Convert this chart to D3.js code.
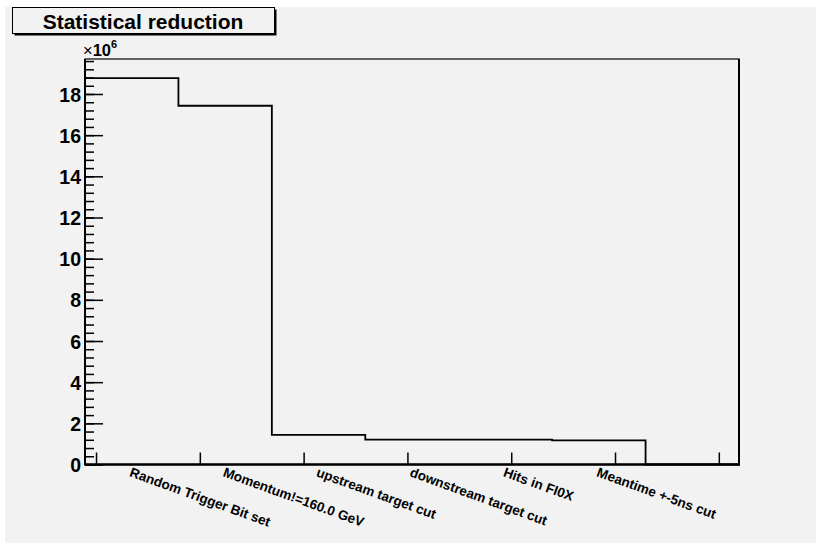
<!DOCTYPE html>
<html>
<head>
<meta charset="utf-8">
<script src="https://cdn.jsdelivr.net/npm/d3@7"></script>
<style>
  html, body { margin: 0; padding: 0; background: #ffffff; }
  svg { display: block; }
  text { font-family: "Liberation Sans", Arial, Helvetica, sans-serif; }
</style>
</head>
<body>
<script>
// ---- data ----
const title = "Statistical reduction";
const categories = ["Random Trigger Bit set", "Momentum!=160.0 GeV", "upstream target cut",
                    "downstream target cut", "Hits in FI0X", "Meantime +-5ns cut", ""];
const values = [18.77, 17.43, 1.44, 1.21, 1.21, 1.17, 0];   // in units of 10^6
const yMajorTicks = [0, 2, 4, 6, 8, 10, 12, 14, 16, 18];
const yMinorTicks = d3.range(0, 19.7, 0.4);
const xTickValues = [0.118, 1.229, 2.34, 3.451, 4.562, 5.673, 6.784];
const exponentLabel = "6";

// ---- layout ----
const W = 816, H = 543;
const svg = d3.select("body").append("svg").attr("width", W).attr("height", H);

svg.append("rect").attr("x", 5).attr("y", 7).attr("width", W - 5).attr("height", H - 7)
  .attr("fill", "#f2f2f2");

const fx0 = 85, fx1 = 739, fy0 = 59, fy1 = 464.5;
const x = d3.scaleLinear().domain([0, categories.length]).range([fx0, fx1]);
const y = d3.scaleLinear().domain([0, 19.7]).range([fy1, fy0]);

// frame
svg.append("rect").attr("x", fx0).attr("y", fy0).attr("width", fx1 - fx0).attr("height", fy1 - fy0)
  .attr("fill", "none").attr("stroke", "#000").attr("stroke-width", 1.2);
svg.append("line").attr("x1", fx1).attr("x2", fx1).attr("y1", fy0).attr("y2", fy1)
  .attr("stroke", "#000").attr("stroke-width", 2);

// histogram
const pts = values.map((v, i) => [i, v]);
pts.push([values.length, values[values.length - 1]]);
const line = d3.line().x(d => x(d[0])).y(d => y(d[1])).curve(d3.curveStepAfter);
svg.append("path").attr("d", line(pts)).attr("fill", "none")
  .attr("stroke", "#000").attr("stroke-width", 1.8);

// y axis
const yMinor = svg.append("g").attr("transform", `translate(${fx0},0)`)
  .call(d3.axisLeft(y).tickValues(yMinorTicks).tickSize(-9).tickFormat(""));
yMinor.select(".domain").remove();
yMinor.selectAll("line").attr("stroke", "#000").attr("stroke-width", 1.5);

const yMajor = svg.append("g").attr("transform", `translate(${fx0},0)`)
  .call(d3.axisLeft(y).tickValues(yMajorTicks).tickSize(-18).tickPadding(4).tickFormat(d3.format("d")));
yMajor.select(".domain").remove();
yMajor.selectAll("line").attr("stroke", "#000").attr("stroke-width", 1.5);
yMajor.selectAll("text").attr("font-size", 19.5).attr("font-weight", "bold")
  .attr("fill", "#000").attr("dy", "0.36em").attr("font-family", "Liberation Sans, Arial, sans-serif");

svg.append("line").attr("x1", fx0).attr("x2", fx0).attr("y1", fy0).attr("y2", fy1 + 1)
  .attr("stroke", "#000").attr("stroke-width", 2);

// exponent
const ex = svg.append("text").attr("x", 83).attr("y", 55.5).attr("font-size", 16.5)
  .attr("font-weight", "bold").attr("fill", "#000");
ex.append("tspan").attr("font-weight", "normal").text("\u00d7");
ex.append("tspan").text("10");
ex.append("tspan").attr("font-size", 11).attr("dy", -8).text(exponentLabel);

// x axis
const xAx = svg.append("g").attr("transform", `translate(0,${fy1})`)
  .call(d3.axisBottom(x).tickValues(xTickValues).tickSize(-12).tickFormat(""));
xAx.select(".domain").remove();
xAx.selectAll("line").attr("stroke", "#000").attr("stroke-width", 1.5);

svg.append("line").attr("x1", fx0).attr("x2", fx1 + 1).attr("y1", fy1).attr("y2", fy1)
  .attr("stroke", "#000").attr("stroke-width", 2.5);

// category labels
svg.append("g").selectAll("text").data(categories).join("text")
  .attr("transform", (d, i) => `translate(${x(i + 0.5) - 3},476) rotate(20)`)
  .attr("font-size", 13.5).attr("font-weight", "bold").attr("fill", "#000")
  .text(d => d);

// title box
svg.append("rect").attr("x", 14.5).attr("y", 9.5).attr("width", 262).attr("height", 26).attr("fill", "#000");
svg.append("rect").attr("x", 12.5).attr("y", 7.5).attr("width", 262).attr("height", 26)
  .attr("fill", "#f2f2f2").attr("stroke", "#000").attr("stroke-width", 1);
svg.append("text").attr("x", 143).attr("y", 29).attr("text-anchor", "middle")
  .attr("font-size", 21).attr("font-weight", "bold").attr("fill", "#000").text(title);
</script>
</body>
</html>
